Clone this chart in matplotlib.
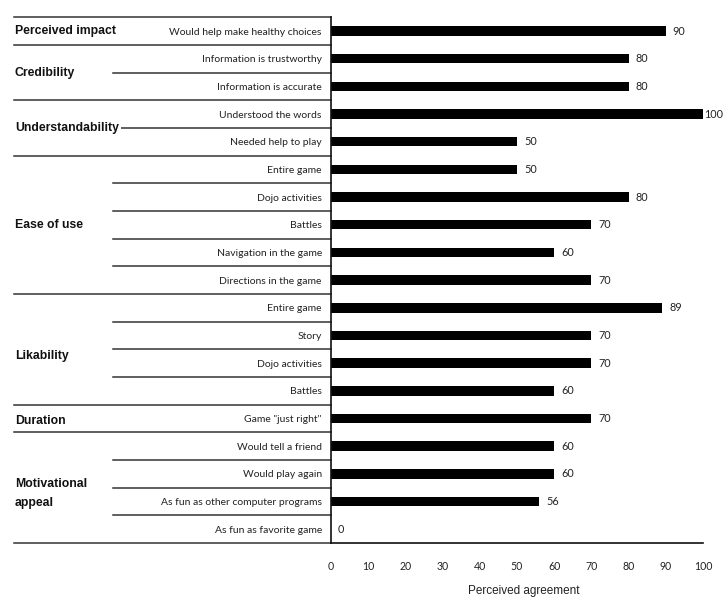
import matplotlib
matplotlib.use("Agg")
from matplotlib import pyplot as plt
import matplotlib.transforms as mtransforms
import numpy as np

NARROW = ['Lato', 'DejaVu Sans']
BOLD_FONT = ['Liberation Sans', 'DejaVu Sans']

groups = ["Perceived impact", "Credibility", "Understandability", "Ease of use",
          "Likability", "Duration", "Motivational\nappeal"]
group_sizes = [1, 2, 2, 5, 4, 1, 4]

items = [
    "Would help make healthy choices",
    "Information is trustworthy",
    "Information is accurate",
    "Understood the words",
    "Needed help to play",
    "Entire game",
    "Dojo activities",
    "Battles",
    "Navigation in the game",
    "Directions in the game",
    "Entire game",
    "Story",
    "Dojo activities",
    "Battles",
    'Game "just right"',
    "Would tell a friend",
    "Would play again",
    "As fun as other computer programs",
    "As fun as favorite game",
]
values = [90, 80, 80, 100, 50, 50, 80, 70, 60, 70, 89, 70, 70, 60, 70, 60, 60, 56, 0]

xticks = list(range(0, 101, 10))

# small vertical nudges (in rows) for the group labels
label_nudge = {"Likability": 0.25, "Duration": 0.1, "Motivational\nappeal": 0.2}

fig = plt.figure(figsize=(7.24, 6.16), dpi=100)
ax = fig.add_axes([0.457, 0.1185, 0.514, 0.8535])

y = np.arange(len(items))
ax.barh(y, values, height=0.34, color='black')
ax.set_ylim(len(items) - 0.5, -0.5)
ax.set_xlim(0, 100)

for i, v in enumerate(values):
    off = 0.8 if v >= 100 else 5
    ax.annotate(str(v), (v, i), xytext=(off, 0), textcoords='offset points',
                va='center', ha='left', fontsize=7.8, color='#222222', family=NARROW)

ax.set_yticks(y)
ax.set_yticklabels(items, family=NARROW, fontsize=7.5, color='#222222')
ax.tick_params(axis='y', length=0, pad=6.5)
ax.set_xticks(xticks)
ax.set_xticklabels([str(t) for t in xticks], family=NARROW, fontsize=7.6, color='#222222')
ax.tick_params(axis='x', length=0, pad=13)
ax.set_xlabel("Perceived agreement", family=BOLD_FONT, fontsize=8.5, color='#222222')
ax.xaxis.set_label_coords(0.518, -0.079)

for s in ['top', 'right']:
    ax.spines[s].set_visible(False)
for s in ['left', 'bottom']:
    ax.spines[s].set_linewidth(1.2)
    ax.spines[s].set_color('#111111')

# separator lines of the table on the left
trans = mtransforms.blended_transform_factory(ax.transAxes, ax.transData)
bounds = np.concatenate([[0], np.cumsum(group_sizes)])
full_x = (14 - 331) / 372
item_x = (113 - 331) / 372
for k in range(len(items) + 1):
    x0 = full_x if k in bounds else item_x
    ax.plot([x0, 0], [k - 0.5, k - 0.5], transform=trans, clip_on=False,
            color='#333333', linewidth=1.1, zorder=1)

# group labels
label_x = (15 - 331) / 372
for g, start, n in zip(groups, bounds[:-1], group_sizes):
    yc = start + n / 2 - 0.5 + label_nudge.get(g, 0)
    ax.text(label_x, yc, g, transform=trans, ha='left', va='center',
            fontsize=8.8, fontweight='bold', family=BOLD_FONT, color='#111111',
            linespacing=1.8,
            bbox=dict(facecolor='white', edgecolor='none', pad=1.5), zorder=3)

fig.savefig("out.png", dpi=100)
